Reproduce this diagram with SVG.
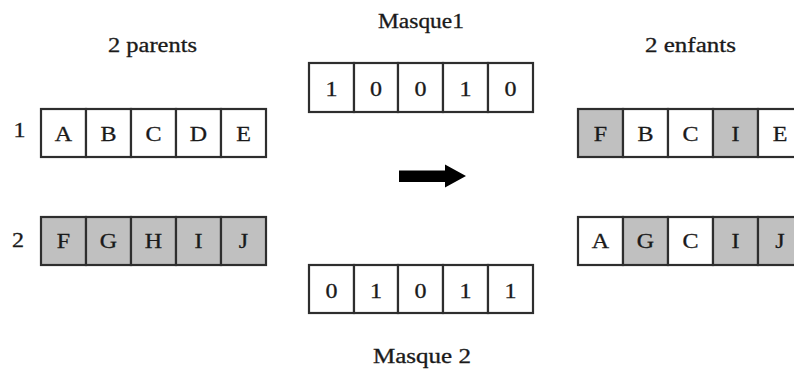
<svg xmlns="http://www.w3.org/2000/svg" width="794" height="369" viewBox="0 0 794 369">
<style>
.c{fill:#ffffff;stroke:#2e2e2e;stroke-width:2.2}
.g{fill:#c0c0c0;stroke:#2e2e2e;stroke-width:2.2}
text{font-family:"Liberation Serif","Times New Roman",serif;font-size:20px;fill:#1a1a1a;stroke:#1a1a1a;stroke-width:0.3;text-anchor:middle}
</style>
<rect width="794" height="369" fill="#ffffff"/>
<g id="labels">
<text x="152.5" y="52" textLength="89" lengthAdjust="spacingAndGlyphs">2 parents</text>
<text x="421" y="28" textLength="86" lengthAdjust="spacingAndGlyphs">Masque1</text>
<text x="690.5" y="52" textLength="91" lengthAdjust="spacingAndGlyphs">2 enfants</text>
<text x="422" y="363" textLength="98" lengthAdjust="spacingAndGlyphs">Masque 2</text>
<text transform="matrix(1.2 0 0 1 19.5 137)">1</text>
<text transform="matrix(1.2 0 0 1 18 247)">2</text>
</g>
<g id="parent1">
<rect class="c" x="41" y="109" width="45" height="48"/>
<rect class="c" x="86" y="109" width="45" height="48"/>
<rect class="c" x="131" y="109" width="45" height="48"/>
<rect class="c" x="176" y="109" width="45" height="48"/>
<rect class="c" x="221" y="109" width="45" height="48"/>
<text transform="matrix(1.2 0 0 1 63.5 141)">A</text>
<text transform="matrix(1.2 0 0 1 108.5 141)">B</text>
<text transform="matrix(1.2 0 0 1 153.5 141)">C</text>
<text transform="matrix(1.2 0 0 1 198.5 141)">D</text>
<text transform="matrix(1.2 0 0 1 243.5 141)">E</text>
</g>
<g id="parent2">
<rect class="g" x="41" y="217" width="45" height="48"/>
<rect class="g" x="86" y="217" width="45" height="48"/>
<rect class="g" x="131" y="217" width="45" height="48"/>
<rect class="g" x="176" y="217" width="45" height="48"/>
<rect class="g" x="221" y="217" width="45" height="48"/>
<text transform="matrix(1.2 0 0 1 63.5 248)">F</text>
<text transform="matrix(1.2 0 0 1 108.5 248)">G</text>
<text transform="matrix(1.2 0 0 1 153.5 248)">H</text>
<text transform="matrix(1.2 0 0 1 198.5 248)">I</text>
<text transform="matrix(1.2 0 0 1 243.5 248)">J</text>
</g>
<g id="masque1">
<rect class="c" x="309" y="63" width="45" height="49"/>
<rect class="c" x="354" y="63" width="44" height="49"/>
<rect class="c" x="398" y="63" width="45" height="49"/>
<rect class="c" x="443" y="63" width="45" height="49"/>
<rect class="c" x="488" y="63" width="45" height="49"/>
<text transform="matrix(1.2 0 0 1 331.5 96)">1</text>
<text transform="matrix(1.2 0 0 1 376 96)">0</text>
<text transform="matrix(1.2 0 0 1 420.5 96)">0</text>
<text transform="matrix(1.2 0 0 1 465.5 96)">1</text>
<text transform="matrix(1.2 0 0 1 510.5 96)">0</text>
</g>
<g id="masque2">
<rect class="c" x="309" y="265" width="45" height="48"/>
<rect class="c" x="354" y="265" width="44" height="48"/>
<rect class="c" x="398" y="265" width="45" height="48"/>
<rect class="c" x="443" y="265" width="45" height="48"/>
<rect class="c" x="488" y="265" width="45" height="48"/>
<text transform="matrix(1.2 0 0 1 331.5 298)">0</text>
<text transform="matrix(1.2 0 0 1 376 298)">1</text>
<text transform="matrix(1.2 0 0 1 420.5 298)">0</text>
<text transform="matrix(1.2 0 0 1 465.5 298)">1</text>
<text transform="matrix(1.2 0 0 1 510.5 298)">1</text>
</g>
<g id="enfant1">
<rect class="g" x="578" y="109" width="45" height="48"/>
<rect class="c" x="623" y="109" width="45" height="48"/>
<rect class="c" x="668" y="109" width="45" height="48"/>
<rect class="g" x="713" y="109" width="45" height="48"/>
<rect class="c" x="758" y="109" width="45" height="48"/>
<text transform="matrix(1.2 0 0 1 600.5 141)">F</text>
<text transform="matrix(1.2 0 0 1 645.5 141)">B</text>
<text transform="matrix(1.2 0 0 1 690.5 141)">C</text>
<text transform="matrix(1.2 0 0 1 735.5 141)">I</text>
<text transform="matrix(1.2 0 0 1 780 141)">E</text>
</g>
<g id="enfant2">
<rect class="c" x="578" y="217" width="45" height="48"/>
<rect class="g" x="623" y="217" width="45" height="48"/>
<rect class="c" x="668" y="217" width="45" height="48"/>
<rect class="g" x="713" y="217" width="45" height="48"/>
<rect class="g" x="758" y="217" width="45" height="48"/>
<text transform="matrix(1.2 0 0 1 600.5 248)">A</text>
<text transform="matrix(1.2 0 0 1 645.5 248)">G</text>
<text transform="matrix(1.2 0 0 1 690.5 248)">C</text>
<text transform="matrix(1.2 0 0 1 735.5 248)">I</text>
<text transform="matrix(1.2 0 0 1 780 248)">J</text>
</g>
<g id="connectors">
<polygon points="399,170.5 445,170.5 445,164.5 466,176 445,187.5 445,182 399,182" fill="#000000"/>
</g>
</svg>
